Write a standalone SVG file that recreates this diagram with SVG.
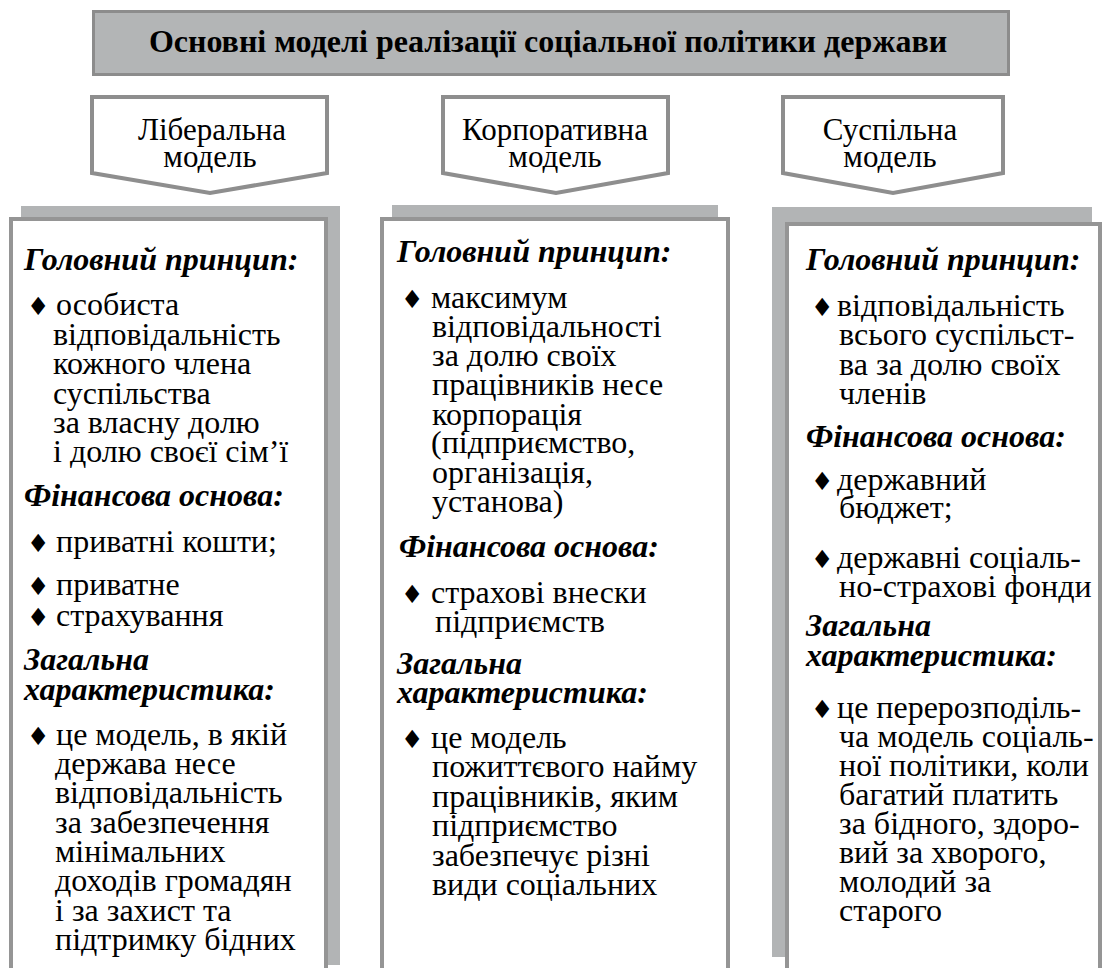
<svg xmlns="http://www.w3.org/2000/svg" width="1102" height="968" viewBox="0 0 1102 968">
<style>
.body-txt{font-family:'Liberation Serif','Times New Roman',serif;font-size:32px;fill:#000}
.head-txt{font-family:'Liberation Serif','Times New Roman',serif;font-size:32px;font-weight:bold;font-style:italic;fill:#000}
.bullet{font-family:'DejaVu Sans',sans-serif;font-size:25px}
.title-txt{font-family:'Liberation Serif','Times New Roman',serif;font-size:32px;font-weight:bold;fill:#000}
.pent-txt{font-family:'Liberation Serif','Times New Roman',serif;font-size:31px;fill:#000}
.shadow{fill:#b2b4b5}
.box{fill:#fff;stroke:#959595;stroke-width:4}
.pent{fill:#fff;stroke:#8e8e8e;stroke-width:4}
</style>
<rect width="1102" height="968" fill="#fff"/>
<g id="title">
<rect x="93.5" y="11.5" width="915" height="63" fill="#b3b5b6" stroke="#8c8c8c" stroke-width="3"/>
<text class="title-txt" x="548" y="52" text-anchor="middle">Основні моделі реалізації соціальної політики держави</text>
</g>
<g id="head-liberal">
<polygon class="pent" points="92,97 327,97 327,173 210,193 92,173"/>
<text class="pent-txt" text-anchor="middle"><tspan x="212" y="140">Ліберальна</tspan><tspan x="210" y="167">модель</tspan></text>
</g>
<g id="head-corporate">
<polygon class="pent" points="443,97 668,97 668,173 556,193 443,173"/>
<text class="pent-txt" text-anchor="middle"><tspan x="555" y="140">Корпоративна</tspan><tspan x="555" y="167">модель</tspan></text>
</g>
<g id="head-social">
<polygon class="pent" points="783,97 1003,97 1003,173 893,193 783,173"/>
<text class="pent-txt" text-anchor="middle"><tspan x="890" y="140">Суспільна</tspan><tspan x="890" y="167">модель</tspan></text>
</g>
<g id="box-liberal">
<rect class="shadow" x="21" y="206" width="319" height="759"/>
<rect class="box" x="11" y="219" width="315" height="760"/>
<text class="head-txt" x="24" y="270">Головний принцип:</text>
<text class="body-txt"><tspan class="bullet" x="27" y="315">♦</tspan><tspan x="56" y="315">особиста</tspan><tspan x="53" y="345">відповідальність</tspan><tspan x="53" y="374">кожного члена</tspan><tspan x="53" y="404">суспільства</tspan><tspan x="53" y="433">за власну долю</tspan><tspan x="53" y="462">і долю своєї сім’ї</tspan></text>
<text class="head-txt" x="24" y="506">Фінансова основа:</text>
<text class="body-txt"><tspan class="bullet" x="27" y="552">♦</tspan><tspan x="56" y="552">приватні кошти;</tspan></text>
<text class="body-txt"><tspan class="bullet" x="27" y="595">♦</tspan><tspan x="56" y="595">приватне</tspan><tspan class="bullet" x="27" y="626">♦</tspan><tspan x="56" y="626">страхування</tspan></text>
<text class="head-txt"><tspan x="24" y="670">Загальна</tspan><tspan x="24" y="700">характеристика:</tspan></text>
<text class="body-txt"><tspan class="bullet" x="27" y="745">♦</tspan><tspan x="56" y="745">це модель, в якій</tspan><tspan x="55" y="774">держава несе</tspan><tspan x="55" y="803">відповідальність</tspan><tspan x="55" y="833">за забезпечення</tspan><tspan x="55" y="862">мінімальних</tspan><tspan x="55" y="891">доходів громадян</tspan><tspan x="55" y="921">і за захист та</tspan><tspan x="55" y="950">підтримку бідних</tspan></text>
</g>
<g id="box-corporate">
<rect class="shadow" x="392" y="205" width="326" height="760"/>
<rect class="box" x="382" y="219" width="346" height="760"/>
<text class="head-txt" x="397" y="262">Головний принцип:</text>
<text class="body-txt"><tspan class="bullet" x="401" y="308">♦</tspan><tspan x="431" y="308">максимум</tspan><tspan x="432" y="337">відповідальності</tspan><tspan x="432" y="366">за долю своїх</tspan><tspan x="432" y="395">працівників несе</tspan><tspan x="432" y="425">корпорація</tspan><tspan x="431" y="453">(підприємство,</tspan><tspan x="432" y="483">організація,</tspan><tspan x="432" y="512">установа)</tspan></text>
<text class="head-txt" x="399" y="557">Фінансова основа:</text>
<text class="body-txt"><tspan class="bullet" x="401" y="603">♦</tspan><tspan x="431" y="603">страхові внески</tspan><tspan x="435" y="632">підприємств</tspan></text>
<text class="head-txt"><tspan x="397" y="674">Загальна</tspan><tspan x="397" y="703">характеристика:</tspan></text>
<text class="body-txt"><tspan class="bullet" x="401" y="748">♦</tspan><tspan x="431" y="748">це модель</tspan><tspan x="432" y="777">пожиттєвого найму</tspan><tspan x="432" y="807">працівників, яким</tspan><tspan x="432" y="836">підприємство</tspan><tspan x="432" y="866">забезпечує різні</tspan><tspan x="432" y="895">види соціальних</tspan></text>
</g>
<g id="box-social">
<rect class="shadow" x="772" y="207" width="320" height="750"/>
<rect class="box" x="787" y="224" width="313" height="760"/>
<text class="head-txt" x="806" y="270">Головний принцип:</text>
<text class="body-txt"><tspan class="bullet" x="811" y="316">♦</tspan><tspan x="837" y="316">відповідальність</tspan><tspan x="839" y="345">всього суспільст-</tspan><tspan x="839" y="375">ва за долю своїх</tspan><tspan x="839" y="404">членів</tspan></text>
<text class="head-txt" x="806" y="447">Фінансова основа:</text>
<text class="body-txt"><tspan class="bullet" x="811" y="490">♦</tspan><tspan x="837" y="490">державний</tspan><tspan x="839" y="518">бюджет;</tspan></text>
<text class="body-txt"><tspan class="bullet" x="811" y="568">♦</tspan><tspan x="837" y="568">державні соціаль-</tspan><tspan x="839" y="597">но-страхові фонди</tspan></text>
<text class="head-txt"><tspan x="806" y="636">Загальна</tspan><tspan x="806" y="666">характеристика:</tspan></text>
<text class="body-txt"><tspan class="bullet" x="811" y="718">♦</tspan><tspan x="837" y="718">це перерозподіль-</tspan><tspan x="839" y="747">ча модель соціаль-</tspan><tspan x="839" y="776">ної політики, коли</tspan><tspan x="839" y="805">багатий платить</tspan><tspan x="839" y="834">за бідного, здоро-</tspan><tspan x="839" y="863">вий за хворого,</tspan><tspan x="839" y="892">молодий за</tspan><tspan x="839" y="921">старого</tspan></text>
</g>
<g id="connectors"></g>
</svg>
